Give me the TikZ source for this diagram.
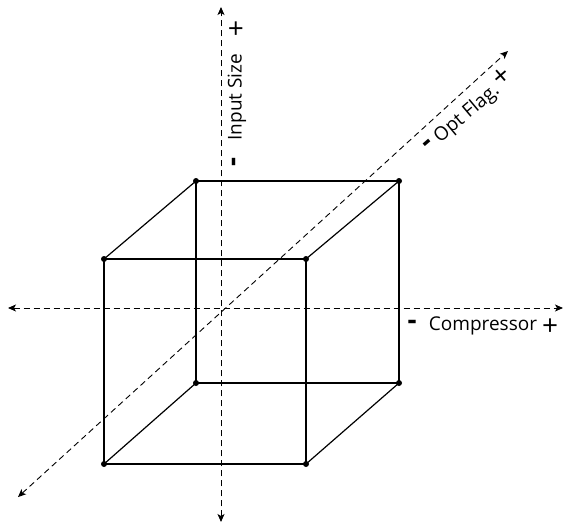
\documentclass[tikz,border=0pt]{standalone}
\usepackage{fontspec}
\setmainfont{Open Sans}
\usetikzlibrary{arrows.meta}
\begin{document}
\begin{tikzpicture}[x=1pt,y=-1pt,
  axis/.style={dash pattern=on 6pt off 4pt, line width=0.9pt, {Stealth[length=8pt,width=7pt,inset=2pt]}-{Stealth[length=8pt,width=7pt,inset=2pt]}},
  edge/.style={line width=1.2pt},
  vtx/.style={circle, fill=black, inner sep=0pt, minimum size=6pt},
  lbl/.style={font=\fontsize{19}{22}\selectfont, inner sep=0pt},
  sgn/.style={font=\fontsize{28}{30}\selectfont, inner sep=0pt},
  msgn/.style={font=\fontsize{28}{30}\selectfont\bfseries, inner sep=0pt}]
\useasboundingbox (0,0) rectangle (567,527);
% axes endpoints
\coordinate (vt) at (221,7);
\coordinate (vb) at (221,522);
\coordinate (hl) at (8,308);
\coordinate (hr) at (563,308);
\coordinate (dl) at (18,497);
\coordinate (dr) at (508,51);
\draw[axis] (vb) -- (vt);
\draw[axis] (hl) -- (hr);
\draw[axis] (dl) -- (dr);
% cube vertices
\node[vtx] (f1) at (104,259) {};
\node[vtx] (f2) at (306,259) {};
\node[vtx] (f3) at (306,464) {};
\node[vtx] (f4) at (104,464) {};
\node[vtx] (b1) at (196,181) {};
\node[vtx] (b2) at (399,181) {};
\node[vtx] (b3) at (399,383) {};
\node[vtx] (b4) at (196,383) {};
\draw[edge] (f1.center) -- (f2.center) -- (f3.center) -- (f4.center) -- cycle;
\draw[edge] (b1.center) -- (b2.center) -- (b3.center) -- (b4.center) -- cycle;
\draw[edge] (f1.center) -- (b1.center);
\draw[edge] (f2.center) -- (b2.center);
\draw[edge] (f3.center) -- (b3.center);
\draw[edge] (f4.center) -- (b4.center);
% labels
\node[sgn] (iplus) at (236,30) {+};
\node[lbl, rotate=90] (ilbl) at (237,97) {Input Size};
\node[msgn, rotate=90] (iminus) at (237,162) {-};
\node[msgn] (cminus) at (412,325) {-};
\node[lbl] (clbl) at (483,326) {Compressor};
\node[sgn] (cplus) at (550,327) {+};
\node[msgn, rotate=41] (ominus) at (429,145) {-};
\node[lbl, rotate=40] (olbl) at (467,114) {Opt Flag.};
\node[sgn, rotate=41] (oplus) at (502,77) {+};
\end{tikzpicture}
\end{document}
